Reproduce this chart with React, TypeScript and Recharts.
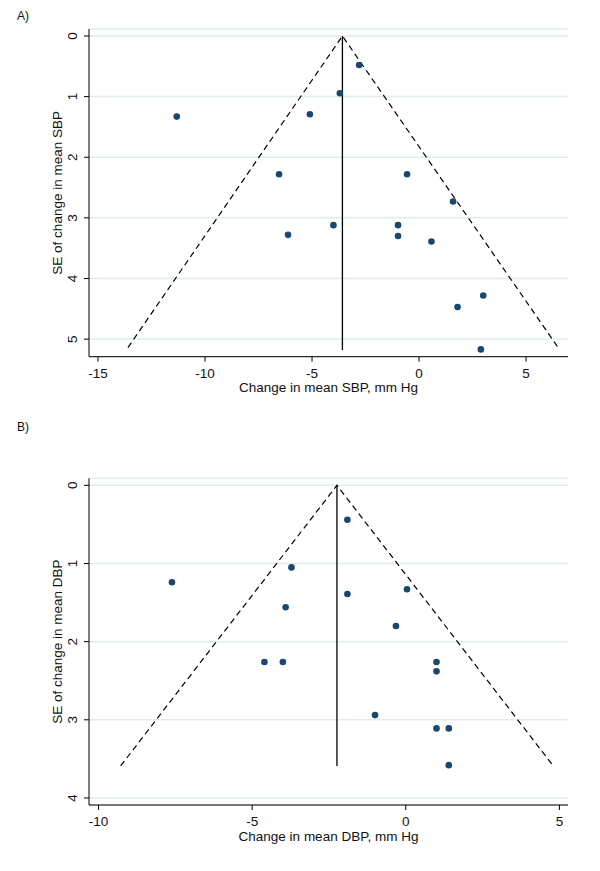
import { CartesianGrid, Label, Scatter, ScatterChart, XAxis, YAxis } from "recharts";

// Panel A: change in systolic BP vs. its standard error
const sbpStudies = [
  { x: -2.8, y: 0.48 },
  { x: -3.7, y: 0.945 },
  { x: -11.32, y: 1.33 },
  { x: -5.1, y: 1.29 },
  { x: -6.54, y: 2.28 },
  { x: -0.56, y: 2.28 },
  { x: 1.59, y: 2.73 },
  { x: -4.0, y: 3.12 },
  { x: -6.12, y: 3.28 },
  { x: -0.98, y: 3.12 },
  { x: -0.98, y: 3.3 },
  { x: 0.58, y: 3.39 },
  { x: 3.0, y: 4.28 },
  { x: 1.8, y: 4.47 },
  { x: 2.89, y: 5.17 },
];
const sbpFunnel = [
  { x: -13.6, y: 5.14 },
  { x: -3.58, y: 0 },
  { x: 6.5, y: 5.14 },
];
const sbpPooled = [
  { x: -3.58, y: 0 },
  { x: -3.58, y: 5.18 },
];
const sbpXTicks = [-15, -10, -5, 0, 5];
const sbpYTicks = [0, 1, 2, 3, 4, 5];

// Panel B: change in diastolic BP vs. its standard error
const dbpStudies = [
  { x: -1.9, y: 0.44 },
  { x: -3.72, y: 1.05 },
  { x: -7.61, y: 1.24 },
  { x: -1.9, y: 1.39 },
  { x: 0.04, y: 1.33 },
  { x: -3.91, y: 1.56 },
  { x: -0.32, y: 1.8 },
  { x: -4.6, y: 2.26 },
  { x: -4.0, y: 2.26 },
  { x: 1.0, y: 2.26 },
  { x: 1.0, y: 2.38 },
  { x: -1.0, y: 2.94 },
  { x: 1.0, y: 3.11 },
  { x: 1.4, y: 3.11 },
  { x: 1.4, y: 3.58 },
];
const dbpFunnel = [
  { x: -9.28, y: 3.59 },
  { x: -2.24, y: 0 },
  { x: 4.8, y: 3.59 },
];
const dbpPooled = [
  { x: -2.24, y: 0 },
  { x: -2.24, y: 3.59 },
];
const dbpXTicks = [-10, -5, 0, 5];
const dbpYTicks = [0, 1, 2, 3, 4];

const FONT = '"Liberation Sans", Arial, sans-serif';
const TEXT = "#111";
const DOT = "#1a476f";

function RotatedTick(props: any) {
  const { x, y, payload } = props;
  const cx = x - 11;
  return (
    <text
      x={cx}
      y={y}
      transform={`rotate(-90 ${cx} ${y})`}
      textAnchor="middle"
      dominantBaseline="central"
      fontSize={13.5}
      fontFamily={FONT}
      fill={TEXT}
    >
      {payload.value}
    </text>
  );
}

function FunnelPanel({
  studies,
  funnel,
  pooled,
  xDomain,
  yDomain,
  xTicks,
  yTicks,
  xTitle,
  yTitle,
  height,
  top,
  bottom,
}: {
  studies: { x: number; y: number }[];
  funnel: { x: number; y: number }[];
  pooled: { x: number; y: number }[];
  xDomain: [number, number];
  yDomain: [number, number];
  xTicks: number[];
  yTicks: number[];
  xTitle: string;
  yTitle: string;
  height: number;
  top: number;
  bottom: number;
}) {
  return (
    <ScatterChart
      width={600}
      height={height}
      margin={{ top, right: 32, left: 0, bottom }}
    >
      <CartesianGrid vertical={false} stroke="#e1ecec" strokeWidth={1.5} />
      <XAxis
        type="number"
        dataKey="x"
        domain={xDomain}
        ticks={xTicks}
        allowDataOverflow
        height={40}
        tickSize={5}
        tickMargin={6.5}
        axisLine={{ stroke: "#000" }}
        tickLine={{ stroke: "#000" }}
        tick={{ fontSize: 13.5, fill: TEXT, fontFamily: FONT }}
      >
        <Label
          value={xTitle}
          position="insideBottom"
          offset={4.5}
          style={{ fontSize: 13.5, fill: TEXT, fontFamily: FONT }}
        />
      </XAxis>
      <YAxis
        type="number"
        dataKey="y"
        domain={yDomain}
        ticks={yTicks}
        reversed
        allowDataOverflow
        width={89}
        tickSize={5}
        tickMargin={0}
        axisLine={{ stroke: "#000" }}
        tickLine={{ stroke: "#000" }}
        tick={<RotatedTick />}
      >
        <Label
          content={(p: any) => {
            const vb = p.viewBox;
            const cy = vb.y + vb.height / 2;
            return (
              <text
                x={57.5}
                y={cy}
                transform={`rotate(-90 57.5 ${cy})`}
                textAnchor="middle"
                dominantBaseline="central"
                fontSize={13.5}
                fontFamily={FONT}
                fill={TEXT}
              >
                {yTitle}
              </text>
            );
          }}
        />
      </YAxis>
      <Scatter
        data={funnel}
        isAnimationActive={false}
        line={{ stroke: "#000", strokeWidth: 1.2, strokeDasharray: "6 4" }}
        shape={() => <g />}
      />
      <Scatter
        data={pooled}
        isAnimationActive={false}
        line={{ stroke: "#000", strokeWidth: 1.3 }}
        shape={() => <g />}
      />
      <Scatter
        data={studies}
        isAnimationActive={false}
        shape={(p: any) => <circle cx={p.cx} cy={p.cy} r={3.3} fill={DOT} />}
      />
    </ScatterChart>
  );
}

export default function App() {
  const tag = {
    position: "absolute" as const,
    left: 17,
    fontSize: 12,
    fontFamily: FONT,
    color: TEXT,
  };
  return (
    <div
      style={{
        position: "absolute",
        left: 0,
        top: 0,
        width: 600,
        height: 871,
        background: "#fff",
      }}
    >
      <div style={{ ...tag, top: 9 }}>A)</div>
      <div style={{ position: "absolute", left: 0, top: 0 }}>
        <FunnelPanel
          studies={sbpStudies}
          funnel={sbpFunnel}
          pooled={sbpPooled}
          xDomain={[-15.42, 6.96]}
          yDomain={[-0.115, 5.29]}
          xTicks={sbpXTicks}
          yTicks={sbpYTicks}
          xTitle="Change in mean SBP, mm Hg"
          yTitle="SE of change in mean SBP"
          height={420}
          top={29}
          bottom={23.3}
        />
      </div>
      <div style={{ ...tag, top: 420 }}>B)</div>
      <div style={{ position: "absolute", left: 0, top: 440 }}>
        <FunnelPanel
          studies={dbpStudies}
          funnel={dbpFunnel}
          pooled={dbpPooled}
          xDomain={[-10.31, 5.28]}
          yDomain={[-0.09, 4.09]}
          xTicks={dbpXTicks}
          yTicks={dbpYTicks}
          xTitle="Change in mean DBP, mm Hg"
          yTitle="SE of change in mean DBP"
          height={431}
          top={38.3}
          bottom={26}
        />
      </div>
    </div>
  );
}
